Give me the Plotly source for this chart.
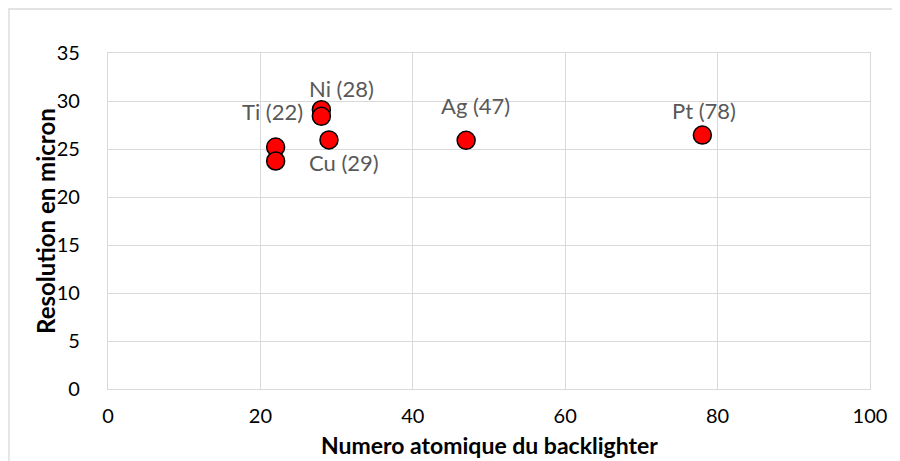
import plotly.graph_objects as go

# Data
atomic_number = [22, 22, 28, 28, 29, 47, 78]
resolution = [25.2, 23.75, 29.1, 28.4, 25.95, 25.9, 26.45]

label_text = ["Ti (22)", "Ni (28)", "Cu (29)", "Ag (47)", "Pt (78)"]
label_x = [22, 28, 29, 47, 78]
label_y = [25.2, 29.1, 25.95, 25.9, 26.45]

x_ticks = [0, 20, 40, 60, 80, 100]
y_ticks = [0, 5, 10, 15, 20, 25, 30, 35]

x_title = "<b>Numero atomique du backlighter</b>"
y_title = "<b>Resolution en micron</b>"

FONT = "Lato, 'Open Sans', sans-serif"

fig = go.Figure()
fig.add_trace(go.Scatter(
    x=atomic_number, y=resolution, mode="markers",
    marker=dict(size=18, color="#ff0000", line=dict(color="black", width=1.5)),
    showlegend=False, cliponaxis=False,
))

# label offsets in pixels (ax, ay) relative to the point
offsets = [(-3, -36), (20, -21), (15, 23), (9, -35), (2, -25)]
for t, x, y, (ax, ay) in zip(label_text, label_x, label_y, offsets):
    fig.add_annotation(x=x, y=y, text=t, showarrow=True, arrowcolor="rgba(0,0,0,0)",
                       ax=ax, ay=ay, font=dict(size=22, color="#595959", family=FONT))

# axis titles
fig.add_annotation(x=0.5, y=0, xref="paper", yref="paper", text=x_title, showarrow=False,
                   yanchor="middle", yshift=-56, font=dict(size=23, color="black", family=FONT))
fig.add_annotation(x=0, y=0.5, xref="paper", yref="paper", text=y_title, showarrow=False,
                   textangle=-90, xanchor="center", xshift=-63,
                   font=dict(size=24, color="black", family=FONT))

fig.update_layout(
    width=900, height=461,
    margin=dict(l=100, r=38, t=45, b=80),
    paper_bgcolor="white", plot_bgcolor="white",
    font=dict(family=FONT, size=20, color="black"),
    xaxis=dict(range=[0, 100], tickvals=x_ticks, showgrid=True, gridcolor="#d9d9d9",
               gridwidth=1.3, zeroline=False, showline=True, linecolor="#d9d9d9",
               linewidth=1.3, mirror=True, ticks="", tickfont=dict(size=20),
               ticklabelstandoff=9),
    yaxis=dict(range=[0, 35], tickvals=y_ticks, showgrid=True, gridcolor="#d9d9d9",
               gridwidth=1.3, zeroline=False, showline=True, linecolor="#d9d9d9",
               linewidth=1.3, mirror=True, ticks="", tickfont=dict(size=20),
               ticklabelstandoff=23),
    shapes=[dict(type="rect", xref="paper", yref="paper", x0=-0.13, x1=1.2,
                 y0=-0.4, y1=1.131, line=dict(color="#d9d9d9", width=1.3),
                 fillcolor="rgba(0,0,0,0)", layer="below")],
)

fig.write_html("out.html")
